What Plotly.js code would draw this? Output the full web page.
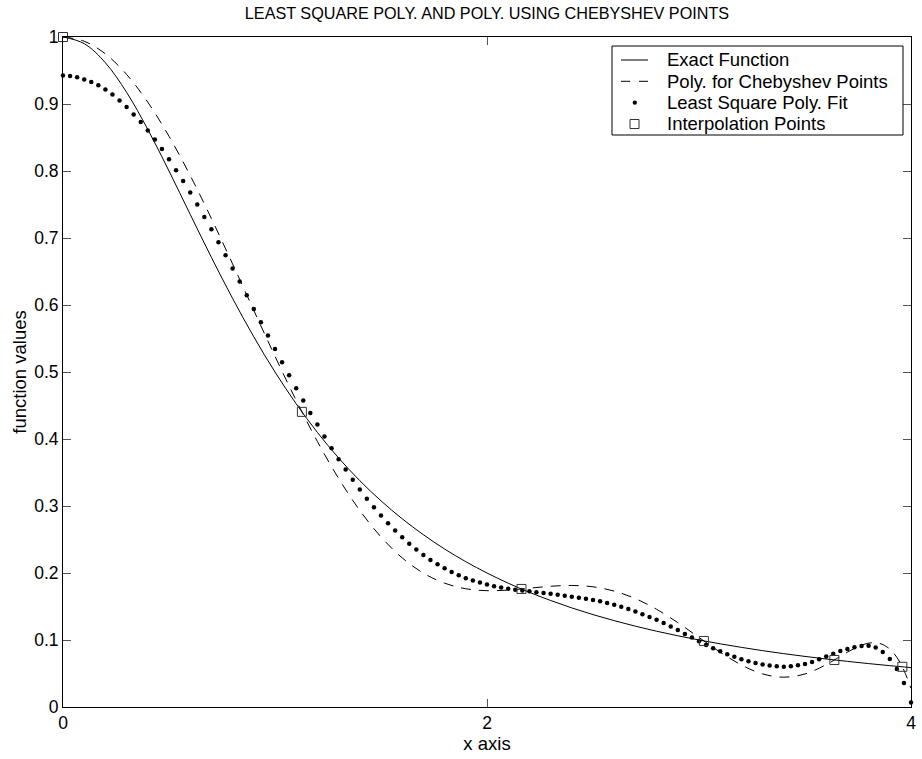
<!DOCTYPE html>
<html>
<head>
<meta charset="utf-8">
<script src="https://cdn.plot.ly/plotly-3.0.1.min.js"></script>
<style>
html,body{margin:0;padding:0;background:#fff;}
#chart{width:922px;height:759px;}
</style>
</head>
<body>
<div id="chart"></div>
<script>
// ---- data ----
const exactX = [0,0.1,0.2,0.3,0.4,0.5,0.6,0.7,0.8,0.9,1.0,1.1,1.2,1.3,1.4,1.5,1.6,1.7,1.8,1.9,2.0,
  2.1,2.2,2.3,2.4,2.5,2.6,2.7,2.8,2.9,3.0,3.1,3.2,3.3,3.4,3.5,3.6,3.7,3.8,3.9,4.0];
const exactY = [1,0.9901,0.9615,0.9174,0.8621,0.8,0.7353,0.6711,0.6098,0.5525,0.5,
  0.4525,0.4098,0.3717,0.3378,0.3077,0.2809,0.2571,0.2358,0.2169,0.2,
  0.1848,0.1712,0.1590,0.1479,0.1379,0.1289,0.1206,0.1131,0.1063,0.1,
  0.0943,0.0890,0.0841,0.0796,0.0755,0.0716,0.0681,0.0648,0.0617,0.0588];

const chebX = [0,0.1,0.2,0.3,0.4,0.5,0.6,0.7,0.8,0.9,1.0,1.1,1.2,1.3,1.4,1.5,1.6,1.7,1.8,1.9,2.0,
  2.1,2.2,2.3,2.4,2.5,2.6,2.7,2.8,2.9,3.0,3.1,3.2,3.3,3.4,3.5,3.6,3.65,3.7,3.75,3.8,3.85,3.9,3.95,4.0];
const chebY = [1,0.9937,0.9748,0.9441,0.9027,0.8518,0.7933,0.7291,0.6613,0.5920,0.5234,
  0.4576,0.3963,0.3412,0.2934,0.2538,0.2226,0.1998,0.1848,0.1765,0.1736,
  0.1745,0.1773,0.1802,0.1814,0.1794,0.1730,0.1618,0.1458,0.1259,0.1038,
  0.0818,0.0627,0.0494,0.0445,0.0493,0.0632,0.0724,0.0818,0.0900,0.0953,0.0951,0.0865,0.0656,0.0278];

const lsX = [0,0.0333,0.0667,0.1,0.1333,0.1667,0.2,0.2333,0.2667,0.3,
  0.3333,0.3667,0.4,0.4333,0.4667,0.5,0.5333,0.5667,0.6,0.6333,
  0.6667,0.7,0.7333,0.7667,0.8,0.8333,0.8667,0.9,0.9333,0.9667,
  1,1.0333,1.0667,1.1,1.1333,1.1667,1.2,1.2333,1.2667,1.3,
  1.3333,1.3667,1.4,1.4333,1.4667,1.5,1.5333,1.5667,1.6,1.6333,
  1.6667,1.7,1.7333,1.7667,1.8,1.8333,1.8667,1.9,1.9333,1.9667,
  2,2.0333,2.0667,2.1,2.1333,2.1667,2.2,2.2333,2.2667,2.3,
  2.3333,2.3667,2.4,2.4333,2.4667,2.5,2.5333,2.5667,2.6,2.6333,
  2.6667,2.7,2.7333,2.7667,2.8,2.8333,2.8667,2.9,2.9333,2.9667,
  3,3.0333,3.0667,3.1,3.1333,3.1667,3.2,3.2333,3.2667,3.3,
  3.3333,3.3667,3.4,3.4333,3.4667,3.5,3.5333,3.5667,3.6,3.6333,
  3.6667,3.7,3.7333,3.7667,3.8,3.8333,3.8667,3.9,3.9333,3.9667,
  4];
const lsY = [0.9427,0.9418,0.9399,0.9367,0.9327,0.9278,0.9215,0.9140,0.9051,0.8954,
  0.8845,0.8730,0.8603,0.8469,0.8327,0.8175,0.8013,0.7849,0.7678,0.7499,
  0.7313,0.7130,0.6938,0.6742,0.6543,0.6349,0.6145,0.5940,0.5742,0.5543,
  0.5343,0.5145,0.4951,0.4757,0.4573,0.4388,0.4215,0.4036,0.3861,0.3697,
  0.3543,0.3391,0.3247,0.3110,0.2981,0.2857,0.2742,0.2633,0.2533,0.2435,
  0.2349,0.2269,0.2194,0.2130,0.2070,0.2015,0.1966,0.1923,0.1887,0.1857,
  0.1827,0.1801,0.1782,0.1764,0.1749,0.1738,0.1727,0.1712,0.1701,0.1690,
  0.1677,0.1662,0.1647,0.1632,0.1617,0.1597,0.1580,0.1554,0.1526,0.1495,
  0.1463,0.1426,0.1386,0.1345,0.1301,0.1254,0.1202,0.1148,0.1091,0.1036,
  0.0980,0.0924,0.0876,0.0831,0.0788,0.0749,0.0714,0.0683,0.0657,0.0636,
  0.0619,0.0608,0.0602,0.0608,0.0622,0.0643,0.0672,0.0711,0.0752,0.0795,
  0.0835,0.0866,0.0893,0.0910,0.0915,0.0889,0.0820,0.0718,0.0566,0.0360,
  0.0066];

const nodeX = [0,1.1269,2.1626,3.0230,3.6385,3.9593];
const nodeY = [1,0.4405,0.1762,0.0986,0.0702,0.0600];

const xTickVals = [0,2,4];
const xTickText = ['0','2','4'];
const yTickVals = [0,0.1,0.2,0.3,0.4,0.5,0.6,0.7,0.8,0.9,1];
const yTickText = ['0','0.1','0.2','0.3','0.4','0.5','0.6','0.7','0.8','0.9','1'];

const seriesNames = ['Exact Function','Poly. for Chebyshev Points','Least Square Poly. Fit','Interpolation Points'];
const titleText = 'LEAST SQUARE POLY. AND POLY. USING CHEBYSHEV POINTS';

// ---- styling ----
const DASH = '10px,8px';
const SQ_COLOR = '#333';

const traces = [
  {x: exactX, y: exactY, name: seriesNames[0], mode: 'lines', type: 'scatter',
   line: {color: '#000', width: 1, shape: 'spline', smoothing: 1}},
  {x: chebX, y: chebY, name: seriesNames[1], mode: 'lines', type: 'scatter',
   line: {color: '#000', width: 1, dash: DASH, shape: 'spline', smoothing: 1}},
  {x: lsX, y: lsY, name: seriesNames[2], mode: 'markers', type: 'scatter', cliponaxis: false,
   marker: {color: '#000', size: 4.5, symbol: 'circle', line: {width: 0}}},
  {x: nodeX, y: nodeY, name: seriesNames[3], mode: 'markers', type: 'scatter', cliponaxis: false,
   marker: {symbol: 'square-open', size: 9, color: SQ_COLOR, line: {width: 1, color: SQ_COLOR}}}
];

// ---- page geometry (pixels) ----
const W = 922, H = 759;
const M = {l: 63, r: 11, t: 37, b: 52};
const PW = W - M.l - M.r, PH = H - M.t - M.b;
const px = p => (p - M.l) / PW;          // pixel x -> paper x
const py = p => (H - M.b - p) / PH;      // pixel y -> paper y

// custom legend box, MATLAB style (compact rows)
const LEG = {x0: 612, x1: 903, y0: 46, y1: 135, sx0: 621, sx1: 648, tx: 665};
const rowY = [60, 81.3, 102.6, 124];
const shapes = [
  {type: 'rect', xref: 'paper', yref: 'paper', x0: px(LEG.x0), x1: px(LEG.x1), y0: py(LEG.y1), y1: py(LEG.y0),
   line: {color: '#000', width: 1}, fillcolor: '#fff', layer: 'above'},
  {type: 'line', xref: 'paper', yref: 'paper', x0: px(LEG.sx0), x1: px(LEG.sx1), y0: py(rowY[0]), y1: py(rowY[0]),
   line: {color: '#000', width: 1}, layer: 'above'},
  {type: 'line', xref: 'paper', yref: 'paper', x0: px(LEG.sx0), x1: px(LEG.sx1), y0: py(rowY[1]), y1: py(rowY[1]),
   line: {color: '#000', width: 1, dash: '9px,9px'}, layer: 'above'},
  {type: 'circle', xref: 'paper', yref: 'paper', x0: px(634.8 - 2.2), x1: px(634.8 + 2.2), y0: py(rowY[2] + 2.2), y1: py(rowY[2] - 2.2),
   line: {color: '#000', width: 0}, fillcolor: '#000', layer: 'above'},
  {type: 'rect', xref: 'paper', yref: 'paper', x0: px(634.5 - 4.5), x1: px(634.5 + 4.5), y0: py(rowY[3] + 4.5), y1: py(rowY[3] - 4.5),
   line: {color: SQ_COLOR, width: 1}, fillcolor: 'rgba(0,0,0,0)', layer: 'above'}
];
const annotations = seriesNames.map((n, i) => ({
  text: n, xref: 'paper', yref: 'paper', x: px(LEG.tx), y: py(rowY[i]),
  xanchor: 'left', yanchor: 'middle', showarrow: false,
  font: {size: 18.5, color: '#000'}
}));

const axisCommon = {
  ticks: 'inside', ticklen: 8, tickwidth: 1, tickcolor: '#555',
  showline: true, linecolor: '#000', linewidth: 1, mirror: 'ticks',
  showgrid: false, zeroline: false,
  tickfont: {size: 17.5, color: '#000'}
};

const layout = {
  width: W, height: H,
  margin: {l: M.l, r: M.r, t: M.t, b: M.b, pad: 0},
  paper_bgcolor: '#fff', plot_bgcolor: '#fff',
  font: {family: '"Liberation Sans", Arial, Helvetica, sans-serif', size: 17, color: '#000'},
  title: {text: titleText, font: {size: 16.2, color: '#000'}, x: 0.5, xref: 'paper', xanchor: 'center',
          y: 1 - 13/759, yref: 'container', yanchor: 'middle'},
  xaxis: Object.assign({}, axisCommon, {range: [0, 4], tickvals: xTickVals, ticktext: xTickText,
          title: {text: 'x axis', font: {size: 18.5}, standoff: 4}}),
  yaxis: Object.assign({}, axisCommon, {range: [0, 1], tickvals: yTickVals, ticktext: yTickText,
          title: {text: 'function values', font: {size: 18.5}, standoff: 2}}),
  showlegend: false,
  shapes: shapes,
  annotations: annotations
};

Plotly.newPlot('chart', traces, layout, {displayModeBar: false, staticPlot: true});
</script>
</body>
</html>
